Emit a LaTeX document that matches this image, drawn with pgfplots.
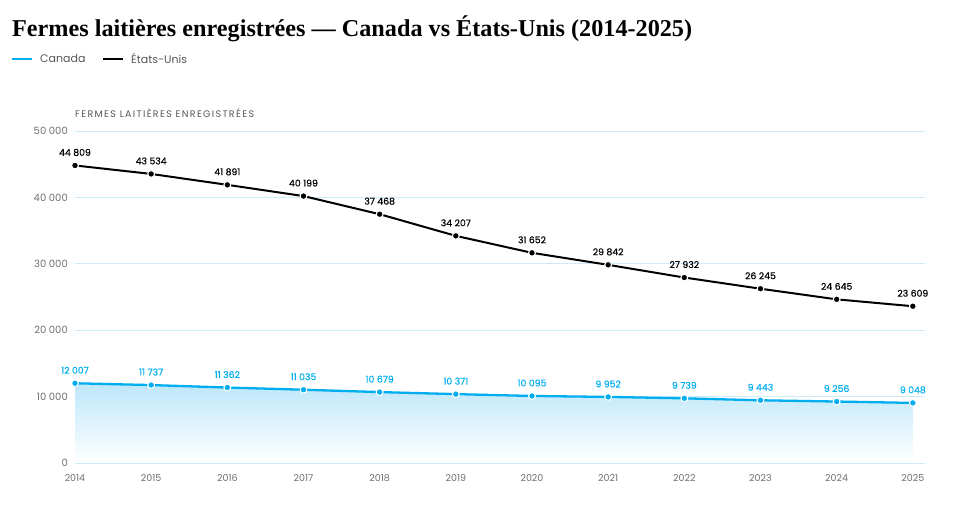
\documentclass[border=0pt]{standalone}
\usepackage{pgfplots}
\pgfplotsset{compat=1.18}
\usepackage{fontspec}
\setmainfont{Poppins}
\newfontfamily\titlefont{Liberation Serif}
\newfontfamily\labelfont[FakeBold=0.35]{Poppins}
\definecolor{canada}{HTML}{00AEEF}
\definecolor{canadafill}{HTML}{BDE7FA}
\definecolor{gridc}{HTML}{CDEBF8}
\definecolor{tickc}{HTML}{6E6E6E}
\definecolor{legc}{HTML}{555555}

\begin{document}
\begin{tikzpicture}[x=1pt,y=1pt]
\path[use as bounding box] (0,0) rectangle (960,518);
% title and legend
\node[anchor=base west, inner sep=0, font=\titlefont\bfseries\fontsize{24.2}{28}\selectfont]
  at (12,481) {Fermes laitières enregistrées — Canada vs États-Unis (2014-2025)};
\draw[canada, line width=2.6] (12,459) -- (32,459);
\node[anchor=west, inner sep=0, text=legc, font=\fontsize{11}{13}\selectfont] at (40,459.5) {Canada};
\draw[black, line width=2.6] (103,459) -- (123,459);
\node[anchor=west, inner sep=0, text=legc, font=\fontsize{11}{13}\selectfont] at (131,459.5) {États-Unis};
\node[anchor=west, inner sep=0, text=legc, font=\fontsize{9.5}{11}\selectfont\addfontfeature{LetterSpace=14}]
  at (75,405) {FERMES LAITIÈRES ENREGISTRÉES};

\begin{axis}[
  at={(75pt,55pt)}, anchor=south west,
  scale only axis, width=850pt, height=332pt,
  xmin=2014, xmax=2025.16, ymin=0, ymax=50000,
  clip=false,
  axis line style={draw=none},
  tick style={draw=none},
  ymajorgrids, grid style={gridc, line width=0.9pt},
  xtick={2014,2015,...,2025},
  ytick={0,10000,...,50000},
  scaled y ticks=false,
  /pgf/number format/assume math mode=true,
  /pgf/number format/1000 sep={\ },
  xticklabel={\pgfmathprintnumber[1000 sep={}]{\tick}},
  x tick label style={font=\fontsize{9.5}{11}\selectfont, text=tickc, inner sep=0, anchor=north, yshift=-11pt},
  y tick label style={font=\fontsize{10}{11}\selectfont, text=tickc, inner sep=0, anchor=east, xshift=-7pt},
]
% Canada: shaded area under the line
\addplot[draw=none, shade, top color=canadafill, bottom color=white, forget plot]
  coordinates {(2014,12007) (2015,11737) (2016,11362) (2017,11035) (2018,10679) (2019,10371)
               (2020,10095) (2021,9952) (2022,9739) (2023,9443) (2024,9256) (2025,9048)} \closedcycle;
% Canada
\addplot[canada, line width=2.3pt, mark=*, mark size=3.4pt,
  mark options={fill=canada, draw=white, line width=1.1pt},
  point meta=y,
  nodes near coords={\pgfmathprintnumber[assume math mode=true, 1000 sep={\ }]{\pgfplotspointmeta}},
  nodes near coords style={font=\labelfont\fontsize{9.3}{11}\selectfont, text=canada, anchor=center, inner sep=0, yshift=13pt}]
  coordinates {(2014,12007) (2015,11737) (2016,11362) (2017,11035) (2018,10679) (2019,10371)
               (2020,10095) (2021,9952) (2022,9739) (2023,9443) (2024,9256) (2025,9048)};
% United States
\addplot[black, line width=2pt, mark=*, mark size=3.4pt,
  mark options={fill=black, draw=white, line width=1.1pt},
  point meta=y,
  nodes near coords={\pgfmathprintnumber[assume math mode=true, 1000 sep={\ }]{\pgfplotspointmeta}},
  nodes near coords style={font=\labelfont\fontsize{9.3}{11}\selectfont, text=black, anchor=center, inner sep=0, yshift=13pt}]
  coordinates {(2014,44809) (2015,43534) (2016,41891) (2017,40199) (2018,37468) (2019,34207)
               (2020,31652) (2021,29842) (2022,27932) (2023,26245) (2024,24645) (2025,23609)};
\end{axis}
\end{tikzpicture}
\end{document}
